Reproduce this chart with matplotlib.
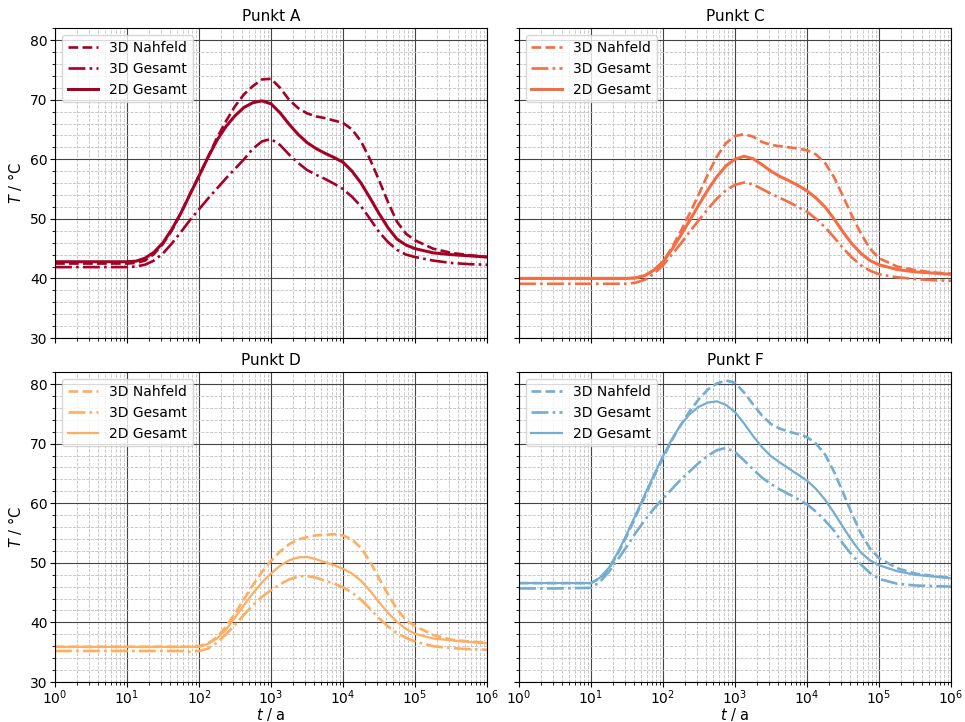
import numpy as np
import matplotlib
matplotlib.use("Agg")
import matplotlib.pyplot as plt
from matplotlib.ticker import MultipleLocator, LogLocator

log_t = [0.0, 0.5, 1.0, 1.125, 1.25, 1.375, 1.5, 1.625, 1.75, 1.875, 2.0, 2.125, 2.25,
         2.375, 2.5, 2.625, 2.75, 2.875, 3.0, 3.125, 3.25, 3.375, 3.5, 3.625, 3.75,
         3.875, 4.0, 4.125, 4.25, 4.375, 4.5, 4.625, 4.75, 4.875, 5.0, 5.25, 5.5, 5.75, 6.0]
t_years = 10 ** np.array(log_t, dtype=float)

# Punkt A
A_nah  = [42.5, 42.5, 42.5, 42.6, 43.0, 44.1, 45.8, 48.1, 51.0, 54.2, 57.2, 60.4, 63.6,
          66.4, 68.9, 70.9, 72.3, 73.4, 73.5, 72.0, 70.0, 68.6, 67.7, 67.2, 66.9,
          66.5, 66.1, 65.0, 63.0, 60.0, 56.5, 52.8, 49.5, 47.5, 46.4, 45.0, 44.3, 43.9, 43.6]
A_ges3 = [41.9, 41.9, 41.9, 42.0, 42.3, 43.0, 44.2, 45.9, 47.8, 49.8, 51.6, 53.4, 55.1,
          56.8, 58.4, 60.0, 61.8, 63.0, 63.4, 62.4, 60.8, 59.4, 58.2, 57.4, 56.7,
          55.9, 55.0, 53.7, 52.1, 50.0, 47.8, 46.1, 44.8, 44.0, 43.6, 43.0, 42.6, 42.4, 42.3]
A_ges2 = [42.8, 42.8, 42.8, 42.9, 43.4, 44.4, 46.0, 48.3, 51.0, 54.1, 57.2, 60.3, 63.2,
          65.5, 67.3, 68.7, 69.5, 69.8, 69.3, 67.8, 65.9, 64.2, 62.8, 61.8, 61.0,
          60.3, 59.5, 58.0, 56.0, 53.5, 50.9, 48.5, 46.6, 45.6, 45.0, 44.3, 44.0, 43.8, 43.6]

# Punkt C
C_nah  = [40.0, 40.0, 40.0, 40.0, 40.0, 40.0, 40.0, 40.1, 40.5, 41.4, 42.8, 45.2, 48.0,
          51.0, 54.2, 57.5, 60.5, 62.7, 63.9, 64.2, 63.8, 62.9, 62.4, 62.2, 62.0,
          61.8, 61.5, 60.8, 59.4, 57.0, 53.8, 50.5, 47.5, 45.0, 43.4, 42.0, 41.4, 41.0, 40.8]
C_ges3 = [39.1, 39.1, 39.1, 39.1, 39.1, 39.1, 39.1, 39.3, 39.8, 40.8, 42.2, 44.0, 45.9,
          47.9, 49.8, 51.7, 53.4, 54.8, 55.7, 56.1, 55.8, 55.0, 54.2, 53.5, 52.8,
          52.0, 51.2, 50.0, 48.6, 46.9, 45.1, 43.5, 42.2, 41.3, 40.7, 40.2, 39.9, 39.7, 39.6]
C_ges2 = [40.0, 40.0, 40.0, 40.0, 40.0, 40.0, 40.0, 40.1, 40.5, 41.4, 42.8, 44.9, 47.3,
          49.8, 52.4, 54.9, 57.1, 58.9, 60.0, 60.5, 60.1, 59.1, 58.0, 57.1, 56.4,
          55.6, 54.7, 53.5, 52.0, 50.0, 47.8, 45.8, 44.2, 43.0, 42.3, 41.5, 41.1, 40.9, 40.7]

# Punkt D
D_nah  = [35.9, 35.9, 35.9, 35.9, 35.9, 35.9, 35.9, 35.9, 35.9, 35.9, 36.0, 36.5, 37.5,
          39.3, 41.5, 43.9, 46.3, 48.5, 50.3, 51.9, 53.1, 53.9, 54.3, 54.6, 54.7,
          54.8, 54.6, 53.9, 52.5, 50.2, 47.4, 44.7, 42.2, 40.4, 39.4, 37.9, 37.1, 36.8, 36.6]
D_ges3 = [35.2, 35.2, 35.2, 35.2, 35.2, 35.2, 35.2, 35.2, 35.2, 35.1, 35.2, 35.6, 36.6,
          38.0, 39.6, 41.3, 42.9, 44.3, 45.4, 46.4, 47.2, 47.7, 47.8, 47.5, 47.0,
          46.5, 45.9, 45.0, 43.8, 42.3, 40.7, 39.3, 38.2, 37.4, 36.8, 36.0, 35.7, 35.5, 35.4]
D_ges2 = [35.9, 35.9, 35.9, 35.9, 35.9, 35.9, 35.9, 35.9, 35.9, 35.9, 35.9, 36.4, 37.3,
          38.8, 40.8, 42.9, 44.9, 46.7, 48.2, 49.5, 50.4, 50.9, 51.0, 50.6, 50.1,
          49.6, 49.0, 48.2, 47.0, 45.3, 43.4, 41.6, 40.1, 38.9, 38.1, 37.3, 37.0, 36.7, 36.5]

# Punkt F
F_nah  = [46.6, 46.6, 46.6, 47.4, 49.0, 51.6, 54.6, 57.9, 61.2, 64.5, 67.6, 70.6, 73.2,
          75.5, 77.5, 79.1, 80.1, 80.6, 80.2, 78.6, 76.6, 74.7, 73.3, 72.5, 72.0,
          71.6, 71.1, 70.0, 68.2, 65.3, 61.8, 58.2, 54.9, 52.4, 50.8, 49.1, 48.2, 47.8, 47.5]
F_ges3 = [45.7, 45.7, 45.8, 46.8, 48.5, 50.6, 52.8, 55.1, 57.2, 59.1, 60.8, 62.4, 64.0,
          65.4, 66.8, 68.0, 68.9, 69.3, 68.6, 67.2, 65.7, 64.3, 63.2, 62.3, 61.5,
          60.7, 59.8, 58.6, 57.1, 55.4, 53.2, 51.3, 49.7, 48.3, 47.3, 46.5, 46.2, 46.1, 46.0]
F_ges2 = [46.6, 46.6, 46.6, 47.5, 49.2, 51.8, 54.9, 58.2, 61.5, 64.8, 67.9, 70.8, 73.2,
          75.0, 76.2, 76.9, 77.1, 76.5, 75.3, 73.4, 71.3, 69.4, 67.9, 66.8, 65.8,
          64.8, 63.8, 62.4, 60.6, 58.4, 56.0, 53.7, 51.7, 50.4, 49.6, 48.6, 48.0, 47.7, 47.4]

titles = ["Punkt A", "Punkt C", "Punkt D", "Punkt F"]
labels = ["3D Nahfeld", "3D Gesamt", "2D Gesamt"]
colors = ["#a50026", "#f46d43", "#fdae61", "#74add1"]
series = [(A_nah, A_ges3, A_ges2), (C_nah, C_ges3, C_ges2),
          (D_nah, D_ges3, D_ges2), (F_nah, F_ges3, F_ges2)]
solid_lw = [2.2, 2.2, 1.6, 1.6]

fig, axes = plt.subplots(2, 2, figsize=(9.65, 7.22), dpi=100, sharex=True, sharey=True)
fig.subplots_adjust(left=0.057, right=0.9855, top=0.961, bottom=0.0554,
                    wspace=0.074, hspace=0.11)

for i, ax in enumerate(axes.flat):
    nah, ges3, ges2 = series[i]
    c = colors[i]
    ax.plot(t_years, nah, ls="--", color=c, lw=1.9, label=labels[0])
    ax.plot(t_years, ges3, ls="-.", color=c, lw=1.9, label=labels[1])
    ax.plot(t_years, ges2, ls="-", color=c, lw=solid_lw[i], label=labels[2])
    ax.set_xscale("log")
    ax.set_xlim(1, 1e6)
    ax.set_ylim(30, 82)
    ax.set_yticks([30, 40, 50, 60, 70, 80])
    ax.yaxis.set_minor_locator(MultipleLocator(2))
    ax.xaxis.set_major_locator(LogLocator(base=10, numticks=10))
    ax.xaxis.set_minor_locator(LogLocator(base=10, subs=np.arange(2, 10), numticks=20))
    ax.grid(True, which="major", color="#444444", lw=0.8, ls="-")
    ax.grid(True, which="minor", color="#c0c0c0", lw=0.6, ls="--")
    ax.set_axisbelow(True)
    ax.set_title(titles[i], fontsize=11, pad=5)
    ax.tick_params(axis="y", labelsize=10, pad=2)
    ax.tick_params(axis="x", labelsize=10, pad=1.2)
    ax.legend(loc="upper left", fontsize=10, handlelength=2.2)
    if i % 2 == 0:
        ax.set_ylabel(r"$T$ / °C", fontsize=10.5)
        ax.yaxis.set_label_coords(-0.072, 0.5)
    if i >= 2:
        ax.set_xlabel(r"$t$ / a", fontsize=10.5)
        ax.xaxis.set_label_coords(0.5, -0.079)

fig.savefig("out.png", dpi=100)
